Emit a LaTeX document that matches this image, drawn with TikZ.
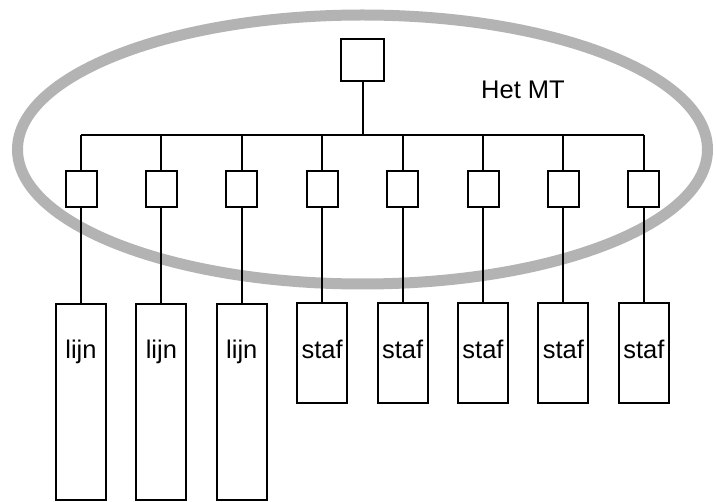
\documentclass[tikz,border=0pt]{standalone}
\usepackage{fontspec}
\setmainfont{Liberation Sans}
\definecolor{ellgray}{RGB}{179,179,179}
\begin{document}
\begin{tikzpicture}[x=1pt,y=-1pt,
  box/.style={draw=black, line width=2pt, fill=white, inner sep=0pt, outer sep=0pt},
  topbox/.style={box, minimum width=43pt, minimum height=42pt},
  smallbox/.style={box, minimum width=31pt, minimum height=36pt},
  lijnbox/.style={box, minimum width=50pt, minimum height=196pt},
  stafbox/.style={box, minimum width=50pt, minimum height=99.5pt},
  lbl/.style={inner sep=0pt, anchor=base, font=\fontsize{25.5}{30}\selectfont},
  conn/.style={draw=black, line width=2pt}]
\useasboundingbox (0,0) rectangle (717,502);
\draw[line width=11pt, color=ellgray] (362.5,149.5) ellipse [x radius=345, y radius=134.5];
\node[topbox] (top) at (362.5,60) {};
\node[lbl] (het) at (523,98.7) {Het MT};
\coordinate (barL) at (81,135);
\coordinate (barR) at (643.8,135);
\draw[conn] (barL) -- (barR);
\draw[conn] (top.south) -- (top.south |- barL);
\foreach \i in {1,...,8} {
  \pgfmathsetmacro{\xx}{81+80.4*(\i-1)}
  \node[smallbox] (s\i) at (\xx,189) {};
  \draw[conn] (s\i.north) -- (s\i.north |- barL);
}
\foreach \i in {1,2,3} {
  \pgfmathsetmacro{\xx}{81+80.4*(\i-1)}
  \node[lijnbox] (b\i) at (\xx,402) {};
  \node[lbl] (t\i) at (\xx,358.3) {lijn};
}
\foreach \i in {4,...,8} {
  \pgfmathsetmacro{\xx}{81+80.4*(\i-1)}
  \node[stafbox] (b\i) at (\xx,353.2) {};
  \node[lbl] (t\i) at (\xx,358.3) {staf};
}
\foreach \i in {1,...,8} {
  \draw[conn] (s\i.south) -- (b\i.north);
}
\end{tikzpicture}
\end{document}
